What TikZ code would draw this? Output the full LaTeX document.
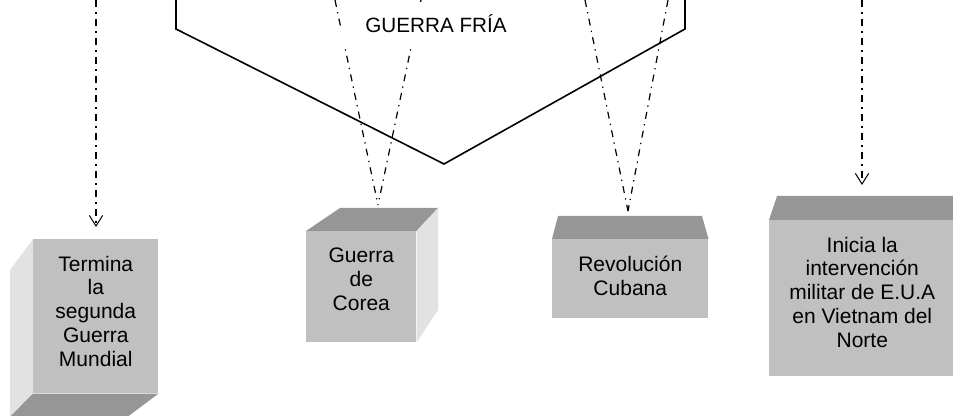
\documentclass[tikz,border=0pt]{standalone}
\usepackage{fontspec}
\setmainfont{Liberation Sans}
\usetikzlibrary{arrows.meta,positioning}
\definecolor{caramedia}{RGB}{192,192,192}
\definecolor{caraoscura}{RGB}{150,150,150}
\definecolor{caraclara}{RGB}{226,226,226}
\tikzset{
  frente/.style={fill=caramedia, inner sep=0pt, anchor=north west},
  rotulo/.style={align=center, inner sep=0pt, font=\fontsize{15.75}{17.8}\selectfont},
  linea/.style={line width=0.9pt, dash pattern=on 5.25pt off 4pt on 1pt off 4pt},
  flecha/.style={linea, -{Straight Barb[length=8pt,width=10pt,line width=0.75pt]}}
}
\begin{document}
\begin{tikzpicture}[x=0.75pt,y=-0.75pt]
\useasboundingbox (0,0) rectangle (953,416);
\clip (0,0) rectangle (953,416);
\coordinate (a1) at (96,0);
\coordinate (b1) at (96,227);
\coordinate (a2) at (335,0);
\coordinate (a3) at (421,0);
\coordinate (b2) at (378,205);
\coordinate (a4) at (585,0);
\coordinate (a5) at (668,0);
\coordinate (b3) at (628,211);
\coordinate (a6) at (862,0);
\coordinate (b4) at (862,185);
\draw[flecha] (a1) -- (b1);
\draw[linea] (a2) -- (b2);
\draw[linea] (a3) -- (b2);
\draw[linea] (a4) -- (b3);
\draw[linea] (a5) -- (b3);
\draw[flecha] (a6) -- (b4);
\draw[line width=1.2pt] (176,0) -- (176,29) -- (444,164) -- (685,29) -- (685,0);
\node[fill=white, inner xsep=18pt, inner ysep=10pt, anchor=base, font=\fontsize{15.5}{18}\selectfont] (fria) at (436,33) {GUERRA FRÍA};
\node[frente, minimum width=93.75pt, minimum height=115.5pt] (termina) at (33,239) {};
\fill[caraclara] (termina.north west) -- (10,270) -- (10,421) -- (termina.south west) -- cycle;
\fill[caraoscura] (termina.south west) -- (termina.south east) -- (122,421) -- (6,421) -- cycle;
\node[rotulo, below=12.5pt of termina.north] (t1) {Termina\\la\\segunda\\Guerra\\Mundial};
\node[frente, minimum width=82.5pt, minimum height=83.25pt] (corea) at (306,231) {};
\fill[caraoscura] (corea.north west) -- (corea.north east) -- (438,208) -- (340,208) -- cycle;
\fill[caraclara] (corea.north east) -- (438,208) -- (438,310) -- (corea.south east) -- cycle;
\node[rotulo, below=12.5pt of corea.north] (t2) {Guerra\\de\\Corea};
\node[frente, minimum width=117pt, minimum height=59.25pt] (cubana) at (552,239) {};
\fill[caraoscura] (cubana.north west) -- (cubana.north east) -- (702,216) -- (558,216) -- cycle;
\node[rotulo, below=12.5pt of cubana.north] (t3) {Revolución\\Cubana};
\node[frente, minimum width=139.5pt, minimum height=117pt] (vietnam) at (769,220) {};
\fill[caraoscura] (vietnam.north west) -- (vietnam.north east) -- (955,196) -- (777,196) -- cycle;
\node[rotulo, below=12.5pt of vietnam.north] (t4) {Inicia la\\intervención\\militar de E.U.A\\en Vietnam del\\Norte};
\end{tikzpicture}
\end{document}
